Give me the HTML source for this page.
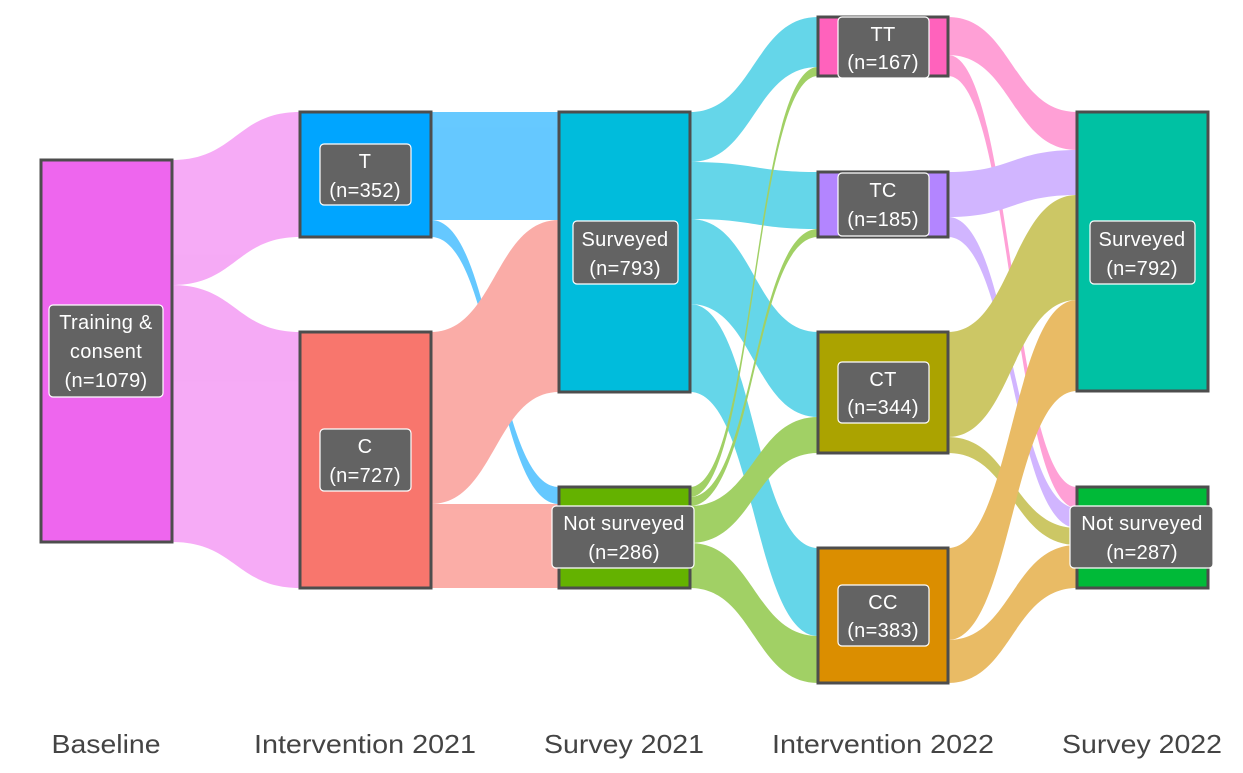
<!DOCTYPE html>
<html><head><meta charset="utf-8"><style>
body{margin:0;background:#fff;}
svg{display:block;font-family:"Liberation Sans",Arial,sans-serif;}
.n{stroke:#4d4d4d;stroke-width:3}
.lb{fill:#636363;stroke:#fff;stroke-width:1.2}
.t{fill:#fff;font-size:20px;text-anchor:middle;letter-spacing:0.3px}
.ax{fill:#444;font-size:26px;text-anchor:middle}
</style></head><body>
<svg width="1243" height="773" viewBox="0 0 1243 773">
<g opacity="0.55">
<path fill="#EE66EE" d="M172 160 C236 160 236 112 300 112 L300 237 C236 237 236 285 172 285Z"/>
<path fill="#EE66EE" d="M172 285 C236 285 236 332 300 332 L300 588 C236 588 236 542 172 542Z"/>
</g>
<g opacity="0.6">
<path fill="#00A5FF" d="M431 112 C495 112 495 112 559 112 L559 220 C495 220 495 220 431 220Z"/>
<path fill="#00A5FF" d="M431 220 C495 220 495 487 559 487 L559 504 C495 504 495 237 431 237Z"/>
<path fill="#F8766D" d="M431 332 C495 332 495 220 559 220 L559 392 C495 392 495 504 431 504Z"/>
<path fill="#F8766D" d="M431 504 C495 504 495 504 559 504 L559 588 C495 588 495 588 431 588Z"/>
<path fill="#00BCDC" d="M690 112 C754 112 754 17 818 17 L818 67 C754 67 754 162 690 162Z"/>
<path fill="#00BCDC" d="M690 162 C754 162 754 172 818 172 L818 229 C754 229 754 219 690 219Z"/>
<path fill="#00BCDC" d="M690 219 C754 219 754 332 818 332 L818 417 C754 417 754 304 690 304Z"/>
<path fill="#00BCDC" d="M690 304 C754 304 754 548 818 548 L818 636 C754 636 754 392 690 392Z"/>
<path fill="#64B200" d="M690 487 C754 487 754 67 818 67 L818 76 C754 76 754 497 690 497Z"/>
<path fill="#64B200" d="M690 497 C754 497 754 229 818 229 L818 237 C754 237 754 506 690 506Z"/>
<path fill="#64B200" d="M690 506 C754 506 754 417 818 417 L818 453 C754 453 754 543 690 543Z"/>
<path fill="#64B200" d="M690 543 C754 543 754 636 818 636 L818 683 C754 683 754 588 690 588Z"/>
<path fill="#FF62BC" d="M948 17 C1012 17 1012 112 1077 112 L1077 150 C1012 150 1012 55 948 55Z"/>
<path fill="#FF62BC" d="M948 55 C1012 55 1012 487 1077 487 L1077 508 C1012 508 1012 76 948 76Z"/>
<path fill="#B385FF" d="M948 172 C1012 172 1012 150 1077 150 L1077 195 C1012 195 1012 217 948 217Z"/>
<path fill="#B385FF" d="M948 217 C1012 217 1012 508 1077 508 L1077 528 C1012 528 1012 237 948 237Z"/>
<path fill="#ABA300" d="M948 332 C1012 332 1012 195 1077 195 L1077 300 C1012 300 1012 437 948 437Z"/>
<path fill="#ABA300" d="M948 437 C1012 437 1012 528 1077 528 L1077 545 C1012 545 1012 453 948 453Z"/>
<path fill="#DB8E00" d="M948 548 C1012 548 1012 300 1077 300 L1077 391 C1012 391 1012 640 948 640Z"/>
<path fill="#DB8E00" d="M948 640 C1012 640 1012 545 1077 545 L1077 588 C1012 588 1012 683 948 683Z"/>
</g>
<rect class="n" x="41" y="160" width="131" height="382" fill="#EE66EE"/>
<rect class="n" x="300" y="112" width="131" height="125" fill="#00A5FF"/>
<rect class="n" x="300" y="332" width="131" height="256" fill="#F8766D"/>
<rect class="n" x="559" y="112" width="131" height="280" fill="#00BCDC"/>
<rect class="n" x="559" y="487" width="131" height="101" fill="#64B200"/>
<rect class="n" x="818" y="17" width="130" height="59" fill="#FF62BC"/>
<rect class="n" x="818" y="172" width="130" height="65" fill="#B385FF"/>
<rect class="n" x="818" y="332" width="130" height="121" fill="#ABA300"/>
<rect class="n" x="818" y="548" width="130" height="135" fill="#DB8E00"/>
<rect class="n" x="1077" y="112" width="131" height="279" fill="#00C1A3"/>
<rect class="n" x="1077" y="487" width="131" height="101" fill="#00BA38"/>

<rect class="lb" x="49" y="305" width="114" height="92" rx="4"/>
<text class="t" x="106" y="329">Training &amp;</text><text class="t" x="106" y="358">consent</text><text class="t" x="106" y="387">(n=1079)</text>
<rect class="lb" x="320" y="144" width="91" height="61" rx="4"/>
<text class="t" x="365" y="168">T</text><text class="t" x="365" y="197">(n=352)</text>
<rect class="lb" x="320" y="429" width="91" height="62" rx="4"/>
<text class="t" x="365" y="453">C</text><text class="t" x="365" y="482">(n=727)</text>
<rect class="lb" x="573" y="221" width="105" height="63" rx="4"/>
<text class="t" x="625" y="246">Surveyed</text><text class="t" x="625" y="275">(n=793)</text>
<rect class="lb" x="552" y="506" width="142" height="62" rx="4"/>
<text class="t" x="624" y="530">Not surveyed</text><text class="t" x="624" y="559">(n=286)</text>
<rect class="lb" x="838" y="17" width="91" height="61" rx="4"/>
<text class="t" x="883" y="41">TT</text><text class="t" x="883" y="69">(n=167)</text>
<rect class="lb" x="838" y="173" width="91" height="63" rx="4"/>
<text class="t" x="883" y="197">TC</text><text class="t" x="883" y="226">(n=185)</text>
<rect class="lb" x="838" y="362" width="91" height="61" rx="4"/>
<text class="t" x="883" y="386">CT</text><text class="t" x="883" y="414">(n=344)</text>
<rect class="lb" x="838" y="585" width="91" height="61" rx="4"/>
<text class="t" x="883" y="609">CC</text><text class="t" x="883" y="637">(n=383)</text>
<rect class="lb" x="1090" y="221" width="105" height="63" rx="4"/>
<text class="t" x="1142" y="246">Surveyed</text><text class="t" x="1142" y="275">(n=792)</text>
<rect class="lb" x="1070" y="506" width="143" height="62" rx="4"/>
<text class="t" x="1142" y="530">Not surveyed</text><text class="t" x="1142" y="559">(n=287)</text>

<text class="ax" x="106" y="753" textLength="109" lengthAdjust="spacingAndGlyphs">Baseline</text>
<text class="ax" x="365" y="753" textLength="222" lengthAdjust="spacingAndGlyphs">Intervention 2021</text>
<text class="ax" x="624" y="753" textLength="160" lengthAdjust="spacingAndGlyphs">Survey 2021</text>
<text class="ax" x="883" y="753" textLength="222" lengthAdjust="spacingAndGlyphs">Intervention 2022</text>
<text class="ax" x="1142" y="753" textLength="160" lengthAdjust="spacingAndGlyphs">Survey 2022</text>
</svg>
</body></html>
